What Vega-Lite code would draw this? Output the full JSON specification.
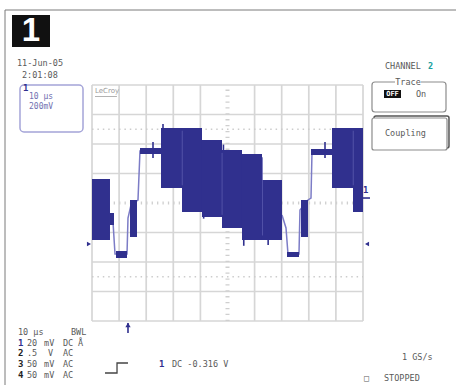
{
"$schema": "https://vega.github.io/schema/vega-lite/v6.json",
"width": 456, "height": 385, "autosize": {"type": "none"}, "padding": 0,
"background": "white",
"config": {"view": {"stroke": null}, "text": {"font": "DejaVu Sans Mono", "fontSize": 8.5, "baseline": "middle", "align": "left", "color": "#5a5a5a"}},
"encoding": {
  "x": {"field": "x", "type": "quantitative", "scale": {"domain": [-3.395, 13.432], "nice": false, "zero": false}, "axis": null},
  "y": {"field": "y", "type": "quantitative", "scale": {"domain": [-6.169, 6.881], "nice": false, "zero": false}, "axis": null}
},
"layer": [
  {"data": {"values": [{"x": -3.21, "y": 6.542, "x2": 13.432, "y2": 6.542}, {"x": -3.21, "y": 6.542, "x2": -3.21, "y2": -6.169}]},
   "mark": {"type": "rule", "color": "#7a7a7a", "strokeWidth": 1},
   "encoding": {"x2": {"field": "x2"}, "y2": {"field": "y2"}}},
  {"data": {"values": [
    {"x": 0, "y": -4, "x2": 0, "y2": 4}, {"x": 1, "y": -4, "x2": 1, "y2": 4}, {"x": 2, "y": -4, "x2": 2, "y2": 4}, {"x": 3, "y": -4, "x2": 3, "y2": 4}, {"x": 4, "y": -4, "x2": 4, "y2": 4},
    {"x": 6, "y": -4, "x2": 6, "y2": 4}, {"x": 7, "y": -4, "x2": 7, "y2": 4}, {"x": 8, "y": -4, "x2": 8, "y2": 4}, {"x": 9, "y": -4, "x2": 9, "y2": 4}, {"x": 10, "y": -4, "x2": 10, "y2": 4},
    {"x": 0, "y": -4, "x2": 10, "y2": -4}, {"x": 0, "y": -3, "x2": 10, "y2": -3}, {"x": 0, "y": -2, "x2": 10, "y2": -2}, {"x": 0, "y": -1, "x2": 10, "y2": -1},
    {"x": 0, "y": 1, "x2": 10, "y2": 1}, {"x": 0, "y": 2, "x2": 10, "y2": 2}, {"x": 0, "y": 3, "x2": 10, "y2": 3}, {"x": 0, "y": 4, "x2": 10, "y2": 4}]},
   "mark": {"type": "rule", "color": "#d6d6d6", "strokeWidth": 1.7},
   "encoding": {"x2": {"field": "x2"}, "y2": {"field": "y2"}}},
  {"data": {"values": [{"x": 5, "y": -4, "x2": 5, "y2": 4}]},
   "mark": {"type": "rule", "color": "#cfcfcf", "strokeWidth": 4, "strokeDash": [1.3, 4.6]},
   "encoding": {"x2": {"field": "x2"}, "y2": {"field": "y2"}}},
  {"data": {"values": [{"x": 0, "y": 0, "x2": 10, "y2": 0}]},
   "mark": {"type": "rule", "color": "#cfcfcf", "strokeWidth": 3, "strokeDash": [1.3, 4.12]},
   "encoding": {"x2": {"field": "x2"}, "y2": {"field": "y2"}}},
  {"data": {"values": [{"x": 0, "y": 2.5, "x2": 10, "y2": 2.5}, {"x": 0, "y": -2.5, "x2": 10, "y2": -2.5}]},
   "mark": {"type": "rule", "color": "#cccccc", "strokeWidth": 1.3, "strokeDash": [1.5, 3.9]},
   "encoding": {"x2": {"field": "x2"}, "y2": {"field": "y2"}}},
  {"data": {"values": [{"x": -2.657, "y": 4.0, "x2": -0.332, "y2": 2.407}]},
   "mark": {"type": "rect", "fill": "white", "stroke": "#a4a4d8", "strokeWidth": 1.5, "cornerRadius": 4},
   "encoding": {"x2": {"field": "x2"}, "y2": {"field": "y2"}}},
  {"data": {"values": [{"x": 10.332, "y": 4.102, "x2": 13.063, "y2": 3.085}]},
   "mark": {"type": "rect", "fill": "white", "stroke": "#8c8c8c", "strokeWidth": 1.2, "cornerRadius": 3},
   "encoding": {"x2": {"field": "x2"}, "y2": {"field": "y2"}}},
  {"data": {"values": [{"x": 10.406, "y": 2.949, "x2": 13.173, "y2": 1.864}]},
   "mark": {"type": "rect", "fill": "white", "stroke": "#555555", "strokeWidth": 1.5, "cornerRadius": 2},
   "encoding": {"x2": {"field": "x2"}, "y2": {"field": "y2"}}},
  {"data": {"values": [{"x": 10.332, "y": 2.881, "x2": 13.1, "y2": 1.797}]},
   "mark": {"type": "rect", "fill": "white", "stroke": "#8c8c8c", "strokeWidth": 1.2, "cornerRadius": 2},
   "encoding": {"x2": {"field": "x2"}, "y2": {"field": "y2"}}},
  {"data": {"values": [{"x": 11.181, "y": 4.237, "x2": 12.14, "y2": 3.966}]},
   "mark": {"type": "rect", "fill": "white"},
   "encoding": {"x2": {"field": "x2"}, "y2": {"field": "y2"}}},
  {"data": {"values": [{"x": -2.952, "y": 6.373, "x2": -1.55, "y2": 5.288}, {"x": 10.775, "y": 3.831, "x2": 11.402, "y2": 3.559}]},
   "mark": {"type": "rect", "fill": "#111111"},
   "encoding": {"x2": {"field": "x2"}, "y2": {"field": "y2"}}},
  {"data": {"values": [
    {"seg": "a", "i": 0, "x": 0.664, "y": -0.407}, {"seg": "a", "i": 1, "x": 0.775, "y": -0.644}, {"seg": "a", "i": 2, "x": 0.849, "y": -1.729},
    {"seg": "a", "i": 3, "x": 1.292, "y": -1.729}, {"seg": "a", "i": 4, "x": 1.328, "y": -0.508}, {"seg": "a", "i": 5, "x": 1.439, "y": -0.068},
    {"seg": "a", "i": 6, "x": 1.697, "y": 0.102}, {"seg": "a", "i": 7, "x": 1.771, "y": 1.763}, {"seg": "a", "i": 8, "x": 2.546, "y": 1.763},
    {"seg": "b", "i": 0, "x": 7.011, "y": -0.407}, {"seg": "b", "i": 1, "x": 7.159, "y": -0.847}, {"seg": "b", "i": 2, "x": 7.232, "y": -1.729},
    {"seg": "b", "i": 3, "x": 7.638, "y": -1.729}, {"seg": "b", "i": 4, "x": 7.675, "y": -0.237}, {"seg": "b", "i": 5, "x": 7.97, "y": 0.102},
    {"seg": "b", "i": 6, "x": 8.081, "y": 0.169}, {"seg": "b", "i": 7, "x": 8.118, "y": 1.729}, {"seg": "b", "i": 8, "x": 8.856, "y": 1.729}]},
   "mark": {"type": "line", "color": "#7c7cc6", "strokeWidth": 1.5},
   "encoding": {"detail": {"field": "seg"}, "order": {"field": "i", "type": "quantitative"}}},
  {"data": {"values": [
    {"x": 0, "y": 0.814, "x2": 0.664, "y2": -1.254},
    {"x": 2.546, "y": 2.542, "x2": 3.321, "y2": 0.508},
    {"x": 3.321, "y": 2.542, "x2": 4.059, "y2": -0.305},
    {"x": 4.059, "y": 2.136, "x2": 4.797, "y2": -0.475},
    {"x": 4.797, "y": 1.797, "x2": 5.535, "y2": -0.847},
    {"x": 5.535, "y": 1.661, "x2": 6.273, "y2": -1.254},
    {"x": 6.273, "y": 0.78, "x2": 7.011, "y2": -1.254},
    {"x": 8.856, "y": 2.542, "x2": 9.631, "y2": 0.508},
    {"x": 9.631, "y": 2.542, "x2": 10.0, "y2": -0.305},
    {"x": 0.886, "y": -1.627, "x2": 1.292, "y2": -1.864},
    {"x": 7.196, "y": -1.661, "x2": 7.638, "y2": -1.831},
    {"x": 1.771, "y": 1.864, "x2": 2.546, "y2": 1.661},
    {"x": 8.081, "y": 1.831, "x2": 8.856, "y2": 1.627},
    {"x": 1.402, "y": 0.102, "x2": 1.661, "y2": -1.153},
    {"x": 7.712, "y": 0.102, "x2": 7.97, "y2": -1.153},
    {"x": 0.664, "y": -0.339, "x2": 0.812, "y2": -0.746}]},
   "mark": {"type": "rect", "fill": "#30308e"},
   "encoding": {"x2": {"field": "x2"}, "y2": {"field": "y2"}}},
  {"data": {"values": [
    {"x": 3.33, "y": 2.45, "x2": 3.33, "y2": 0.6},
    {"x": 4.8, "y": 1.7, "x2": 4.8, "y2": -0.4},
    {"x": 6.29, "y": 1.55, "x2": 6.29, "y2": -1.1},
    {"x": 9.64, "y": 2.45, "x2": 9.64, "y2": 0.6}]},
   "mark": {"type": "rule", "color": "#5c5cae", "strokeWidth": 0.8},
   "encoding": {"x2": {"field": "x2"}, "y2": {"field": "y2"}}},
  {"data": {"values": [
    {"x": 2.251, "y": 2.068, "x2": 2.251, "y2": 1.525},
    {"x": 8.598, "y": 2.068, "x2": 8.598, "y2": 1.525},
    {"x": 2.62, "y": 2.678, "x2": 2.62, "y2": 2.4},
    {"x": 4.12, "y": -0.305, "x2": 4.12, "y2": -0.53},
    {"x": 5.6, "y": -1.254, "x2": 5.6, "y2": -1.45},
    {"x": 6.5, "y": -1.254, "x2": 6.5, "y2": -1.42},
    {"x": 4.85, "y": 1.797, "x2": 4.85, "y2": 1.98},
    {"x": 1.328, "y": -4.07, "x2": 1.328, "y2": -4.407},
    {"x": 10.0, "y": 0.169, "x2": 10.258, "y2": 0.169}]},
   "mark": {"type": "rule", "color": "#30308e", "strokeWidth": 1.6},
   "encoding": {"x2": {"field": "x2"}, "y2": {"field": "y2"}}},
  {"data": {"values": [{"x": 1.328, "y": -4.136}]},
   "mark": {"type": "point", "shape": "triangle-up", "filled": true, "size": 28, "color": "#30308e", "opacity": 1}},
  {"data": {"values": [{"x": -0.111, "y": -1.39}]},
   "mark": {"type": "point", "shape": "triangle-right", "filled": true, "size": 22, "color": "#30308e", "opacity": 1}},
  {"data": {"values": [{"x": 10.148, "y": -1.39}]},
   "mark": {"type": "point", "shape": "triangle-left", "filled": true, "size": 22, "color": "#30308e", "opacity": 1}},
  {"data": {"values": [{"x": -2.251, "y": 5.831, "t": "1"}]},
   "mark": {"type": "text", "font": "Liberation Sans", "fontWeight": "bold", "fontSize": 33, "color": "white", "align": "center"},
   "encoding": {"text": {"field": "t"}}},
  {"data": {"values": [
    {"x": -2.768, "y": 4.746, "t": "11-Jun-05"},
    {"x": -2.583, "y": 4.339, "t": "2:01:08"},
    {"x": 10.812, "y": 4.644, "t": "CHANNEL"},
    {"x": 11.956, "y": 3.695, "t": "On"},
    {"x": 10.812, "y": 2.373, "t": "Coupling"},
    {"x": -2.731, "y": -4.373, "t": "10 μs"},
    {"x": -0.775, "y": -4.373, "t": "BWL"},
    {"x": -2.399, "y": -4.746, "t": "20"}, {"x": -1.771, "y": -4.746, "t": "mV"}, {"x": -1.07, "y": -4.746, "t": "DC"}, {"x": -0.517, "y": -4.746, "t": "Å"},
    {"x": -2.399, "y": -5.085, "t": ".5"}, {"x": -1.624, "y": -5.085, "t": "V"}, {"x": -1.07, "y": -5.085, "t": "AC"},
    {"x": -2.399, "y": -5.458, "t": "50"}, {"x": -1.771, "y": -5.458, "t": "mV"}, {"x": -1.07, "y": -5.458, "t": "AC"},
    {"x": -2.399, "y": -5.831, "t": "50"}, {"x": -1.771, "y": -5.831, "t": "mV"}, {"x": -1.07, "y": -5.831, "t": "AC"},
    {"x": 2.952, "y": -5.458, "t": "DC -0.316 V"},
    {"x": 11.439, "y": -5.22, "t": "1 GS/s"},
    {"x": 10.037, "y": -5.942, "t": "□"},
    {"x": 10.775, "y": -5.942, "t": "STOPPED"}]},
   "mark": {"type": "text"},
   "encoding": {"text": {"field": "t"}}},
  {"data": {"values": [{"x": 11.661, "y": 4.102, "t": "Trace"}]},
   "mark": {"type": "text", "align": "center"},
   "encoding": {"text": {"field": "t"}}},
  {"data": {"values": [{"x": 11.089, "y": 3.695, "t": "OFF"}]},
   "mark": {"type": "text", "align": "center", "color": "white", "fontSize": 7, "fontWeight": "bold"},
   "encoding": {"text": {"field": "t"}}},
  {"data": {"values": [{"x": 12.399, "y": 4.644, "t": "2"}]},
   "mark": {"type": "text", "color": "#1aa0a0", "fontWeight": "bold"},
   "encoding": {"text": {"field": "t"}}},
  {"data": {"values": [{"x": -2.325, "y": 3.593, "t": "10 μs"}, {"x": -2.325, "y": 3.254, "t": "200mV"}]},
   "mark": {"type": "text", "color": "#7070b0", "fontSize": 8},
   "encoding": {"text": {"field": "t"}}},
  {"data": {"values": [{"x": 0.111, "y": 3.797, "t": "LeCroy"}]},
   "mark": {"type": "text", "color": "#9a9a9a", "fontSize": 7, "font": "DejaVu Sans"},
   "encoding": {"text": {"field": "t"}}},
  {"data": {"values": [{"x": 0.111, "y": 3.61, "x2": 0.92, "y2": 3.61}]},
   "mark": {"type": "rule", "color": "#a0a0a0", "strokeWidth": 0.8},
   "encoding": {"x2": {"field": "x2"}, "y2": {"field": "y2"}}},
  {"data": {"values": [{"x": -2.546, "y": 3.898, "t": "1"}, {"x": -2.731, "y": -4.746, "t": "1"}, {"x": 2.472, "y": -5.458, "t": "1"}, {"x": 10.0, "y": 0.441, "t": "1"}]},
   "mark": {"type": "text", "color": "#30308e", "fontWeight": "bold", "fontSize": 9},
   "encoding": {"text": {"field": "t"}}},
  {"data": {"values": [{"x": -2.731, "y": -5.085, "t": "2"}, {"x": -2.731, "y": -5.458, "t": "3"}, {"x": -2.731, "y": -5.831, "t": "4"}]},
   "mark": {"type": "text", "color": "#222222", "fontWeight": "bold", "fontSize": 9},
   "encoding": {"text": {"field": "t"}}},
  {"data": {"values": [
    {"i": 0, "x": 0.48, "y": -5.763}, {"i": 1, "x": 0.923, "y": -5.763}, {"i": 2, "x": 0.923, "y": -5.424}, {"i": 3, "x": 1.328, "y": -5.424}]},
   "mark": {"type": "line", "color": "#444444", "strokeWidth": 1.3, "interpolate": "linear"},
   "encoding": {"order": {"field": "i", "type": "quantitative"}}}
]
}
